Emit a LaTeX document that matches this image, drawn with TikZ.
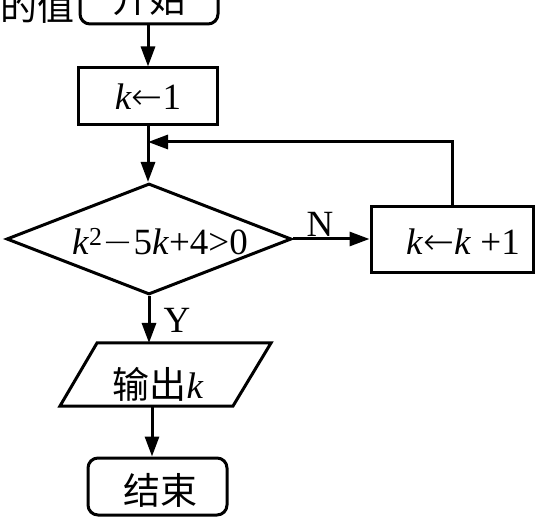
\documentclass[tikz,border=0pt]{standalone}
\usepackage{fontspec}
\setmainfont{Liberation Serif}
\newfontfamily\cjk{Noto Sans CJK SC}
\newfontfamily\symf{DejaVu Sans ExtraLight}
\usetikzlibrary{arrows.meta,shapes.geometric}
\newcommand{\larr}{{\symf ←}}
\newcommand{\mminus}{{\symf −}}
\begin{document}
\begin{tikzpicture}[x=1pt,y=-1pt, line width=3pt,
  box/.style={draw, rectangle, inner sep=0pt, line width=3pt, font=\fontsize{37}{42}\selectfont},
  term/.style={box, rounded corners=10pt},
  arr/.style={-{Triangle[length=20pt,width=14pt]}, line width=3pt},
  lab/.style={inner sep=0pt, font=\fontsize{37}{42}\selectfont}]
\useasboundingbox (0,0) rectangle (538,518);
% start (cut off at the top)
\node[term, minimum width=138pt, minimum height=60pt] (start) at (149,-6) {};
\node[lab] (starttxt) at (149,-1) {\cjk 开始};
\node[lab] (pre) at (37,6) {\cjk 的值};
% k <- 1
\node[box, minimum width=139pt, minimum height=57pt] (k1) at (148,96.5) {\textit{k}\larr 1};
% decision
\node[diamond, draw, minimum width=285pt, minimum height=111pt, inner sep=0pt] (dec) at (149,239) {};
\node[lab] (dectxt) at (160,242) {\textit{k}\textsuperscript{2}\mminus 5\textit{k}+4>0};
% increment
\node[box, minimum width=162pt, minimum height=66pt] (inc) at (452,240) {};
\node[lab] (inctxt) at (463,242) {\textit{k}\larr\textit{k} +1};
% output
\coordinate (out) at (165,374.5);
\draw (out) ++(-68,-31.5) -- ++(174,0) -- ++(-38,63) -- ++(-173,0) -- cycle;
\node[lab] (outtxt) at (158,384) {\cjk 输出\rmfamily\textit{k}};
\coordinate (outtop) at (149,343);
\coordinate (outbot) at (152,406);
% end
\node[term, minimum width=139pt, minimum height=57pt] (end) at (157.5,486.5) {};
\node[lab] (endtxt) at (160,490) {\cjk 结束};
% connectors
\draw[arr] (start.south -| k1) -- (k1.north);
\draw[arr] (k1.south) -- (k1.south |- dec.north);
\coordinate (loopy) at (0,142);
\draw[arr] (inc.north) |- (loopy -| k1);
\draw[arr] (dec.east) -- (dec.east -| inc.west);
\node[lab] (N) at (320,224) {N};
\draw[arr] (dec.south) -- (dec.south |- outtop);
\node[lab] (Y) at (177,320) {Y};
\draw[arr] (outbot) -- (outbot |- end.north);
\end{tikzpicture}
\end{document}
